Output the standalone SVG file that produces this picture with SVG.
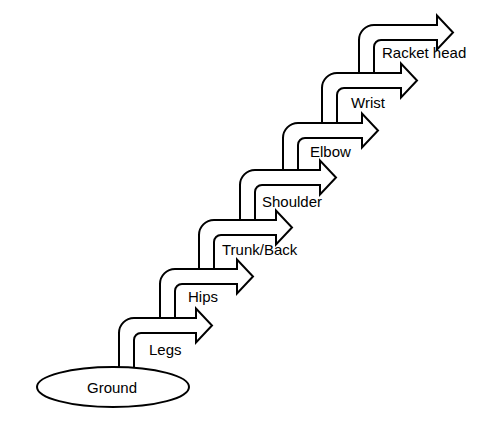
<svg xmlns="http://www.w3.org/2000/svg" width="500" height="430" viewBox="0 0 500 430">
<style>
.arrow{fill:#fff;stroke:#000;stroke-width:2;stroke-linejoin:miter}
.node{fill:#fff;stroke:#000;stroke-width:2}
.lbl{font-family:"Liberation Sans",Arial,sans-serif;font-size:15px;fill:#000}
</style>
<rect width="500" height="430" fill="#fff"/>
<g id="racket-head">
<path class="arrow" d="M359 73 V40 A15 15 0 0 1 374 25 H437 V15.5 L453 32.5 L437 49.5 V40 H381 A7 7 0 0 0 374 47 V73"/>
<text class="lbl" x="382" y="58">Racket head</text>
</g>
<g id="wrist">
<path class="arrow" d="M322 123 V88 A15 15 0 0 1 337 73 H401 V63.5 L417 80.5 L401 97.5 V88 H344 A7 7 0 0 0 337 95 V123"/>
<text class="lbl" x="351" y="108">Wrist</text>
</g>
<g id="elbow">
<path class="arrow" d="M283 170 V138 A15 15 0 0 1 298 123 H362 V113.5 L378 130.5 L362 147.5 V138 H305 A7 7 0 0 0 298 145 V170"/>
<text class="lbl" x="310" y="157">Elbow</text>
</g>
<g id="shoulder">
<path class="arrow" d="M240 220 V185 A15 15 0 0 1 255 170 H320 V160.5 L336 177.5 L320 194.5 V185 H262 A7 7 0 0 0 255 192 V220"/>
<text class="lbl" x="262" y="207">Shoulder</text>
</g>
<g id="trunk-back">
<path class="arrow" d="M199 269 V235 A15 15 0 0 1 214 220 H276 V210.5 L292 227.5 L276 244.5 V235 H221 A7 7 0 0 0 214 242 V269"/>
<text class="lbl" x="222" y="255">Trunk/Back</text>
</g>
<g id="hips">
<path class="arrow" d="M160 318 V284 A15 15 0 0 1 175 269 H237 V259.5 L253 276.5 L237 293.5 V284 H182 A7 7 0 0 0 175 291 V318"/>
<text class="lbl" x="188" y="302">Hips</text>
</g>
<g id="legs">
<path class="arrow" d="M119 368 V333 A15 15 0 0 1 134 318 H196 V308.5 L212 325.5 L196 342.5 V333 H141 A7 7 0 0 0 134 340 V368"/>
<text class="lbl" x="149" y="355">Legs</text>
</g>
<g id="ground">
<ellipse class="node" cx="113" cy="387" rx="76" ry="20"/>
<text class="lbl" x="112" y="393" text-anchor="middle">Ground</text>
</g>
</svg>
